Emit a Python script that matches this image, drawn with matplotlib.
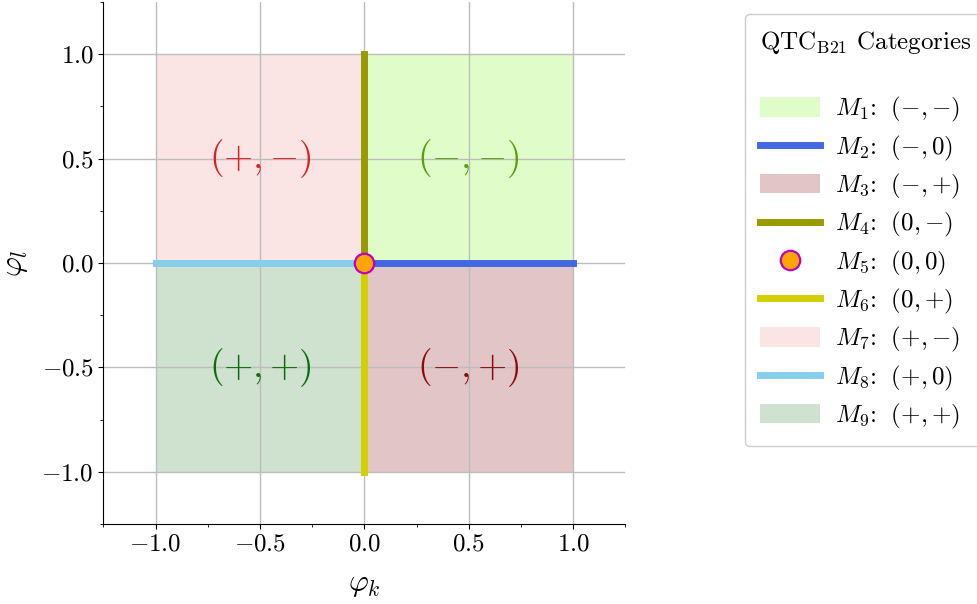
import matplotlib
matplotlib.use("Agg")
import matplotlib.pyplot as plt
from matplotlib.patches import Rectangle, Patch
from matplotlib.lines import Line2D
from matplotlib.ticker import MultipleLocator

plt.rcParams['mathtext.fontset'] = 'cm'
plt.rcParams['font.family'] = 'serif'
plt.rcParams['font.serif'] = ['cmr10']
plt.rcParams['axes.formatter.use_mathtext'] = True
plt.rcParams['axes.unicode_minus'] = True

# Quadrant regions (x0, x1, y0, y1)
region_names = ['M1', 'M3', 'M7', 'M9']
region_x = [(0, 1), (0, 1), (-1, 0), (-1, 0)]
region_y = [(0, 1), (-1, 0), (0, 1), (-1, 0)]
region_colors = ['#e0fcc8', '#e1c5c7', '#fbe4e4', '#cfe1cf']
region_text = ['(-,-)', '(-,+)', '(+,-)', '(+,+)']
region_text_colors = ['#56a10c', '#8b0a0a', '#dc2020', '#0b6e0b']

# Half-axis segments
seg_names = ['M2', 'M4', 'M6', 'M8']
seg_x = [(0, 1), (0, 0), (0, 0), (-1, 0)]
seg_y = [(0, 0), (0, 1), (-1, 0), (0, 0)]
seg_colors = ['#4169e1', '#9a9a00', '#d4cf00', '#87ceeb']

# Origin point
point_x = [0]
point_y = [0]

legend_order = ['M1', 'M2', 'M3', 'M4', 'M5', 'M6', 'M7', 'M8', 'M9']
legend_tuples = ['(-,-)', '(-,0)', '(-,+)', '(0,-)', '(0,0)', '(0,+)', '(+,-)', '(+,0)', '(+,+)']
tick_vals = [-1.0, -0.5, 0.0, 0.5, 1.0]


def tex_tuple(s):
    # make signs ordinary symbols (no binary-operator spacing)
    return s.replace('-', '{-}').replace('+', '{+}')


fig = plt.figure(figsize=(9.77, 6.04), dpi=100)
ax = fig.add_axes([0.1034, 0.1325, 0.539, 0.864])

for (x0, x1), (y0, y1), c in zip(region_x, region_y, region_colors):
    ax.add_patch(Rectangle((x0, y0), x1 - x0, y1 - y0, facecolor=c, edgecolor='none', zorder=1))
for (x0, x1), (y0, y1), t, tc in zip(region_x, region_y, region_text, region_text_colors):
    ax.text((x0 + x1) / 2, (y0 + y1) / 2, '$' + tex_tuple(t) + '$', color=tc, fontsize=27,
            ha='center', va='center', zorder=3)

for xs, ys, c in zip(seg_x, seg_y, seg_colors):
    ax.plot(xs, ys, color=c, lw=5, zorder=4)
ax.plot(point_x, point_y, 'o', color='orange', markeredgecolor='#c000c0', markersize=14,
        markeredgewidth=1.6, zorder=5)

ax.set_xlim(-1.25, 1.25)
ax.set_ylim(-1.25, 1.25)
ax.set_aspect('equal', adjustable='box')
ax.xaxis.set_minor_locator(MultipleLocator(0.25))
ax.yaxis.set_minor_locator(MultipleLocator(0.25))
ax.set_xticks(tick_vals)
ax.set_yticks(tick_vals)
tick_labels = ['$%.1f$' % v for v in tick_vals]
ax.set_xticklabels(tick_labels)
ax.set_yticklabels(tick_labels)
ax.tick_params(labelsize=18)
ax.grid(True, color='#bdbdbd', lw=1)
ax.spines['top'].set_visible(False)
ax.spines['right'].set_visible(False)
ax.set_xlabel(r'$\varphi_k$', fontsize=22, labelpad=11)
ax.set_ylabel(r'$\varphi_l$', fontsize=22, labelpad=8)

color_map = dict(zip(region_names, region_colors))
color_map.update(dict(zip(seg_names, seg_colors)))
handles = []
labels = []
for name, tup in zip(legend_order, legend_tuples):
    if name in region_names:
        h = Patch(facecolor=color_map[name], edgecolor='none')
    elif name in seg_names:
        h = Line2D([0], [0], color=color_map[name], lw=5)
    else:
        h = Line2D([0], [0], marker='o', color='orange', markeredgecolor='#c000c0',
                   markersize=14, markeredgewidth=1.6, lw=0)
    handles.append(h)
    labels.append(r'$M_{%s}$: $\;%s$' % (name[1:], tex_tuple(tup)))

leg = fig.legend(handles, labels, loc='upper left', bbox_to_anchor=(0.7625, 0.9768),
                 bbox_transform=fig.transFigure, fontsize=18, borderaxespad=0,
                 title='QTC$_{\\mathrm{B21}}$ Categories\n', title_fontsize=18,
                 alignment='left', handlelength=2.4, handleheight=0.8, handletextpad=0.6,
                 labelspacing=0.37, borderpad=0.6, framealpha=1, edgecolor='#cccccc')
leg.get_title().set_linespacing(1.45)

fig.savefig('out.png', dpi=100)
